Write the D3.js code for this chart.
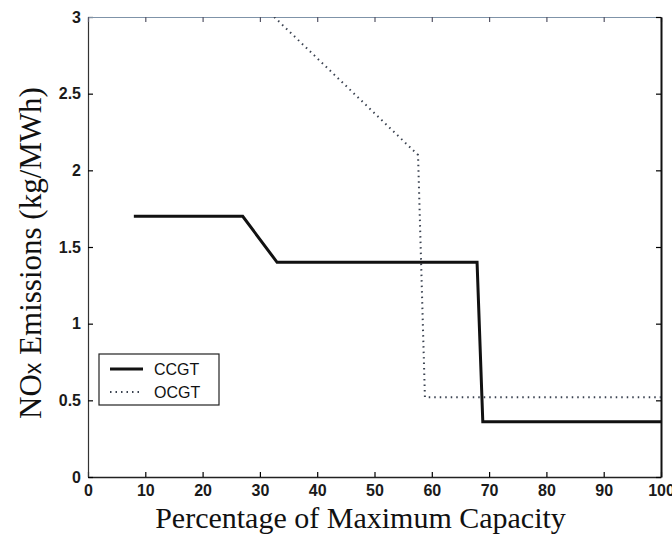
<!DOCTYPE html>
<html>
<head>
<meta charset="utf-8">
<script src="https://cdn.jsdelivr.net/npm/d3@7"></script>
<style>
  body { margin: 0; background: #fff; }
  .tick text { font-family: "Liberation Sans", Arial, sans-serif; font-size: 16px; font-weight: bold; fill: #1a1a1a; }
</style>
</head>
<body>
<div id="vis"></div>
<script>
const margin = { top: 17, right: 11, bottom: 60, left: 88 };
const width = 672 - margin.left - margin.right;
const height = 537 - margin.top - margin.bottom;

// Data (capacity %, kg/MWh)
const ccgtX = [8, 27, 33, 67.9, 68.9, 100];
const ccgtY = [1.70, 1.70, 1.40, 1.40, 0.36, 0.36];
const ocgtX = [32.5, 57.6, 58.8, 100];
const ocgtY = [3.0, 2.10, 0.52, 0.52];

const xTicks = [0, 10, 20, 30, 40, 50, 60, 70, 80, 90, 100];
const yTicks = [0, 0.5, 1, 1.5, 2, 2.5, 3];

const seriesNames = ["CCGT", "OCGT"];

const svgRoot = d3.select("#vis")
  .append("svg")
  .attr("width", 672)
  .attr("height", 537);

const svg = svgRoot.append("g")
  .attr("transform", `translate(${margin.left},${margin.top})`);

const xScale = d3.scaleLinear().domain([0, 100]).range([0, width]);
const yScale = d3.scaleLinear().domain([0, 3]).range([height, 0]);

// Axes (inward ticks, mirrored on top/right)
svg.append("g")
  .attr("transform", `translate(0,${height})`)
  .call(d3.axisBottom(xScale).tickValues(xTicks).tickSizeInner(-5).tickSizeOuter(0).tickPadding(8).tickFormat(d3.format("d")))
  .call(g => g.select(".domain").attr("stroke", "#222").attr("stroke-width", 1.5));

svg.append("g")
  .call(d3.axisLeft(yScale).tickValues(yTicks).tickSizeInner(-5).tickSizeOuter(0).tickPadding(7).tickFormat(d => d))
  .call(g => g.select(".domain").attr("stroke", "#333").attr("stroke-width", 1.2));

svg.append("g")
  .call(d3.axisTop(xScale).tickValues(xTicks).tickSizeInner(-5).tickSizeOuter(0).tickFormat(""))
  .call(g => g.select(".domain").attr("stroke", "#7f93a8").attr("stroke-width", 1.2))
  .call(g => g.selectAll(".tick line").attr("stroke", "#556"));

svg.append("g")
  .attr("transform", `translate(${width},0)`)
  .call(d3.axisRight(yScale).tickValues(yTicks).tickSizeInner(-5).tickSizeOuter(0).tickFormat(""))
  .call(g => g.select(".domain").attr("stroke", "#111").attr("stroke-width", 2));

svg.selectAll(".tick line").attr("stroke-width", 1.2);

// Clip to plot area
svg.append("clipPath").attr("id", "plot-clip")
  .append("rect").attr("width", width).attr("height", height);

const line = d3.line()
  .x(d => xScale(d[0]))
  .y(d => yScale(d[1]));

const plot = svg.append("g").attr("clip-path", "url(#plot-clip)");

plot.append("path")
  .datum(ocgtX.map((x, i) => [x, ocgtY[i]]))
  .attr("fill", "none")
  .attr("stroke", "#3a4250")
  .attr("stroke-width", 2)
  .attr("stroke-dasharray", "1.5,4")
  .attr("d", line);

plot.append("path")
  .datum(ccgtX.map((x, i) => [x, ccgtY[i]]))
  .attr("fill", "none")
  .attr("stroke", "#111")
  .attr("stroke-width", 3)
  .attr("stroke-linejoin", "miter")
  .attr("d", line);

// Axis labels
svg.append("text")
  .attr("x", width / 2 - 14)
  .attr("y", height + 51)
  .style("text-anchor", "middle")
  .style("font-family", "'Liberation Serif', 'Times New Roman', serif")
  .style("font-size", "30px")
  .style("fill", "#111")
  .text("Percentage of Maximum Capacity");

const yLabel = svg.append("text")
  .attr("transform", "rotate(-90)")
  .attr("x", -height / 2 - 6)
  .attr("y", -margin.left + 41)
  .style("text-anchor", "middle")
  .style("font-family", "'Liberation Serif', 'Times New Roman', serif")
  .style("font-size", "31px")
  .style("fill", "#111");
yLabel.append("tspan").text("NO");
yLabel.append("tspan")
  .style("font-family", "'Liberation Sans', Arial, sans-serif")
  .style("font-size", "23px")
  .text("x");
yLabel.append("tspan").text(" Emissions (kg/MWh)");

// Legend
const legend = svg.append("g").attr("transform", "translate(11,337)");
legend.append("rect")
  .attr("width", 120)
  .attr("height", 51)
  .attr("fill", "#fff")
  .attr("stroke", "#222")
  .attr("stroke-width", 1.2);

const legendStyles = [
  { stroke: "#111", width: 3, dash: null },
  { stroke: "#3a4250", width: 2, dash: "1.5,4" }
];

seriesNames.forEach((name, i) => {
  const yy = 15 + i * 23;
  legend.append("line")
    .attr("x1", 11).attr("x2", 44)
    .attr("y1", yy).attr("y2", yy)
    .attr("stroke", legendStyles[i].stroke)
    .attr("stroke-width", legendStyles[i].width)
    .attr("stroke-dasharray", legendStyles[i].dash);
  legend.append("text")
    .attr("x", 55)
    .attr("y", yy + 6)
    .style("font-family", "'Liberation Sans', Arial, sans-serif")
    .style("font-size", "16px")
    .style("fill", "#111")
    .text(name);
});
</script>
</body>
</html>
